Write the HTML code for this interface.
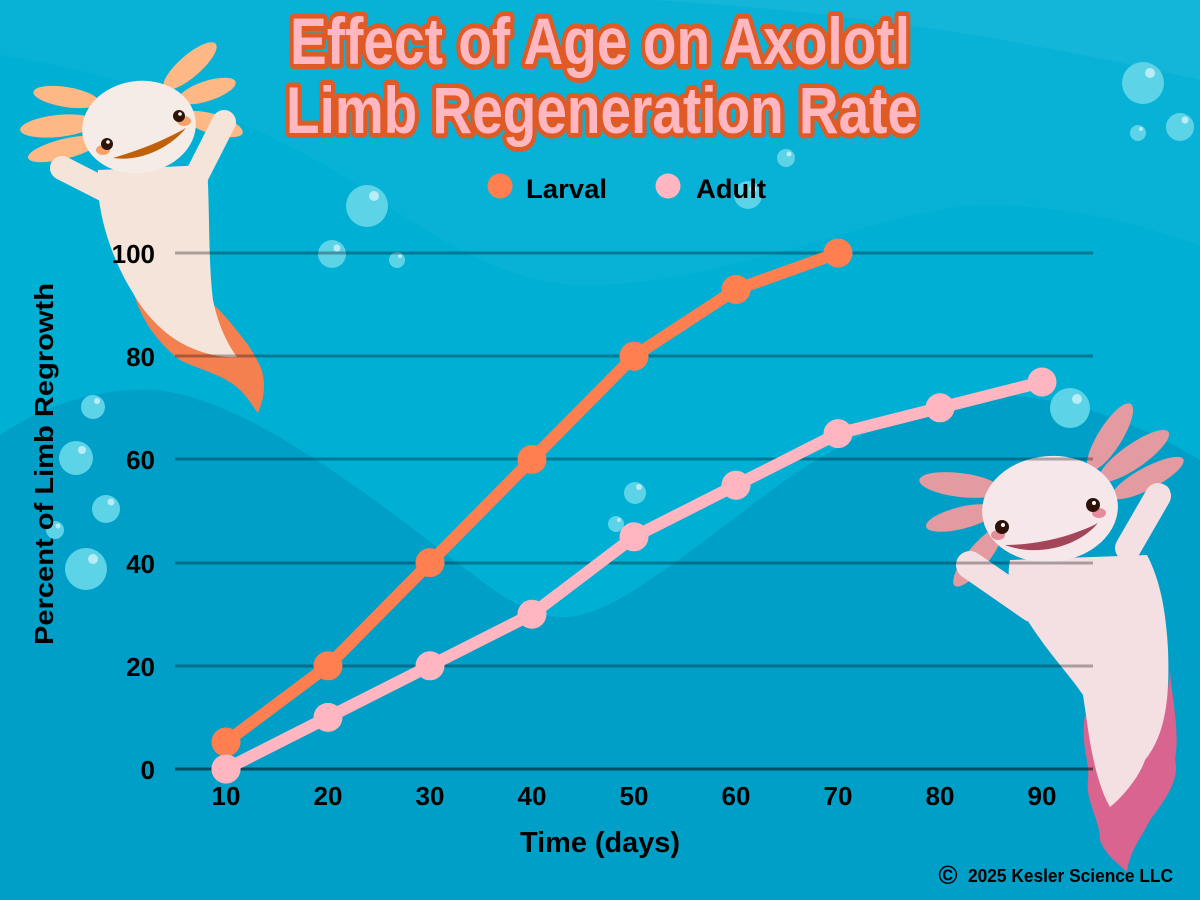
<!DOCTYPE html>
<html><head><meta charset="utf-8"><style>
html,body{margin:0;padding:0;width:1200px;height:900px;overflow:hidden;background:#00afd4;}
svg{display:block;}
text{font-family:"Liberation Sans",sans-serif;font-weight:bold;}
</style></head><body>
<svg width="1200" height="900" viewBox="0 0 1200 900" xmlns="http://www.w3.org/2000/svg">
<!-- background -->
<rect width="1200" height="900" fill="#00afd4"/>
<path d="M0,0 L0,55 C150,80 250,120 350,180 C450,250 520,290 600,285 C750,280 900,200 1000,205 C1100,210 1150,230 1200,245 L1200,0 Z" fill="#07b2d6"/>
<path d="M650,0 C850,12 1000,35 1200,80 L1200,0 Z" fill="#13b5d8"/>
<path d="M0,435 C50,402 100,388 153,390 C250,395 400,520 480,580 C520,610 545,618 566,617 C620,615 700,540 800,470 C880,420 950,395 1000,395 C1080,398 1150,430 1200,460 L1200,900 L0,900 Z" fill="#009fc8"/>

<!-- bubbles -->
<g fill="#5dd3e8">
<circle cx="1143" cy="83" r="21"/><circle cx="1180" cy="127" r="14"/><circle cx="1138" cy="133" r="8"/>
<circle cx="786" cy="158" r="9"/><circle cx="367" cy="206" r="21"/><circle cx="332" cy="254" r="14"/>
<circle cx="397" cy="260" r="8"/><circle cx="748" cy="195" r="14"/><circle cx="1070" cy="408" r="20"/>
<circle cx="93" cy="407" r="12"/><circle cx="76" cy="458" r="17"/><circle cx="106" cy="509" r="14"/>
<circle cx="55" cy="530" r="9"/><circle cx="86" cy="569" r="21"/><circle cx="635" cy="493" r="11"/>
<circle cx="616" cy="524" r="8"/>
</g>
<g fill="#b8ecf6">
<circle cx="1150" cy="73" r="5"/><circle cx="1185" cy="120" r="3.5"/><circle cx="1141" cy="129" r="2"/>
<circle cx="789" cy="154" r="2.5"/><circle cx="374" cy="196" r="5"/><circle cx="337" cy="248" r="3.5"/>
<circle cx="400" cy="256" r="2"/><circle cx="753" cy="189" r="3.5"/><circle cx="1077" cy="399" r="5"/>
<circle cx="97" cy="401" r="3"/><circle cx="82" cy="450" r="4"/><circle cx="111" cy="502" r="3.5"/>
<circle cx="58" cy="526" r="2.5"/><circle cx="93" cy="559" r="5"/><circle cx="639" cy="487" r="3"/>
<circle cx="619" cy="520" r="2"/>
</g>

<!-- left axolotl -->
<g>
<g fill="#fdb885">
<ellipse cx="66" cy="97" rx="33" ry="10" transform="rotate(9 66 97)"/>
<ellipse cx="58" cy="126" rx="38" ry="11" transform="rotate(-6 58 126)"/>
<ellipse cx="64" cy="149" rx="37" ry="10" transform="rotate(-14 64 149)"/>
<ellipse cx="190" cy="66" rx="34" ry="11" transform="rotate(-41 190 66)"/>
<ellipse cx="207" cy="91" rx="30" ry="10" transform="rotate(-18 207 91)"/>
<ellipse cx="213" cy="124" rx="31" ry="10" transform="rotate(17 213 124)"/>
</g>
<path d="M133,290 C140,320 160,345 180,360 C200,370 225,375 240,390 C250,400 255,410 258,413 C266,395 266,375 258,362 C250,345 240,335 230,322 C220,310 210,300 203,298 Z" fill="#f47f4f"/>
<path d="M98,170 C95,210 112,260 133,293 C145,315 165,335 185,345 C205,355 225,358 237,357 C228,345 218,325 213,300 C208,260 210,210 207,165 Z" fill="#f5e4d9"/>
<path d="M115,195 L62,168" stroke="#f5e4d9" stroke-width="24" stroke-linecap="round"/>
<path d="M192,185 L224,122" stroke="#f5e4d9" stroke-width="24" stroke-linecap="round"/>
<ellipse cx="139" cy="127" rx="57" ry="46" transform="rotate(-8 139 127)" fill="#f6ece7"/>
<ellipse cx="103" cy="150" rx="7" ry="5" fill="#f7a06a"/>
<ellipse cx="184" cy="121" rx="7" ry="5" fill="#f7a06a"/>
<circle cx="107" cy="144" r="6" fill="#2d1508"/><circle cx="108" cy="142" r="1.8" fill="#fff"/>
<circle cx="179" cy="116" r="6" fill="#2d1508"/><circle cx="180" cy="114" r="1.8" fill="#fff"/>
<path d="M113,158 C140,150 165,140 186,128 C170,148 140,162 113,158 Z" fill="#c0600a"/>
</g>

<!-- right axolotl -->
<g>
<g fill="#e39aa0">
<ellipse cx="960" cy="485" rx="41" ry="12" transform="rotate(7 960 485)"/>
<ellipse cx="961" cy="518" rx="36" ry="11" transform="rotate(-14 961 518)"/>
<ellipse cx="978" cy="557" rx="37" ry="11" transform="rotate(-51 978 557)"/>
<ellipse cx="1110" cy="437" rx="39" ry="12" transform="rotate(-58 1110 437)"/>
<ellipse cx="1134" cy="456" rx="42" ry="12" transform="rotate(-35 1134 456)"/>
<ellipse cx="1148" cy="478" rx="40" ry="11" transform="rotate(-28 1148 478)"/>
</g>
<path d="M1085,715 C1080,745 1090,760 1088,780 C1085,800 1100,820 1100,840 C1105,855 1120,865 1127,872 C1130,850 1140,840 1150,820 C1165,800 1180,780 1175,760 C1180,730 1172,700 1170,670 C1168,700 1160,740 1140,765 L1110,807 L1090,725 Z" fill="#d9648f"/>
<path d="M1010,560 C1005,585 1015,600 1023,613 C1045,650 1070,675 1083,695 L1087,722 C1092,760 1100,790 1110,807 C1125,795 1140,775 1145,760 C1165,735 1170,700 1168,650 C1166,610 1160,580 1147,555 Z" fill="#f4dfe2"/>
<path d="M1032,608 L970,565" stroke="#f4dfe2" stroke-width="28" stroke-linecap="round"/>
<path d="M1128,548 L1158,496" stroke="#f4dfe2" stroke-width="26" stroke-linecap="round"/>
<ellipse cx="1160" cy="492" rx="10" ry="8" fill="#f4dfe2"/>
<ellipse cx="1050" cy="509" rx="68" ry="53" transform="rotate(-5 1050 509)" fill="#f6e7ea"/>
<ellipse cx="998" cy="535" rx="7" ry="5" fill="#e58d9c"/>
<ellipse cx="1099" cy="513" rx="7" ry="5" fill="#e58d9c"/>
<circle cx="1002" cy="527" r="7" fill="#2d1208"/><circle cx="1003" cy="525" r="2" fill="#fff"/>
<circle cx="1093" cy="505" r="7" fill="#2d1208"/><circle cx="1094" cy="503" r="2" fill="#fff"/>
<path d="M1005,545 C1040,545 1075,535 1098,523 C1080,545 1040,558 1005,545 Z" fill="#a3465a"/>
</g>

<!-- gridlines -->
<g stroke="rgba(0,0,0,0.3)" stroke-width="3">
<line x1="175" y1="253" x2="1093" y2="253"/>
<line x1="175" y1="356" x2="1093" y2="356"/>
<line x1="175" y1="459" x2="1093" y2="459"/>
<line x1="175" y1="563" x2="1093" y2="563"/>
<line x1="175" y1="666" x2="1093" y2="666"/>
</g>
<line x1="175" y1="769" x2="1093" y2="769" stroke="rgba(0,0,0,0.5)" stroke-width="3"/>

<!-- series -->
<polyline points="226,769 328,717.4 430,665.8 532,614.2 634,536.8 736,485.2 838,433.6 940,407.8 1042,382" fill="none" stroke="#ffb6c1" stroke-width="12" stroke-linejoin="round" stroke-linecap="round"/>
<g fill="#ffb6c1">
<circle cx="226" cy="769" r="14.5"/><circle cx="328" cy="717.4" r="14.5"/><circle cx="430" cy="665.8" r="14.5"/>
<circle cx="532" cy="614.2" r="14.5"/><circle cx="634" cy="536.8" r="14.5"/><circle cx="736" cy="485.2" r="14.5"/>
<circle cx="838" cy="433.6" r="14.5"/><circle cx="940" cy="407.8" r="14.5"/><circle cx="1042" cy="382" r="14.5"/>
</g>
<polyline points="226,742 328,665.8 430,562.6 532,459.4 634,356.2 736,289.5 838,253" fill="none" stroke="#ff7f50" stroke-width="12" stroke-linejoin="round" stroke-linecap="round"/>
<g fill="#ff7f50">
<circle cx="226" cy="742" r="14.5"/><circle cx="328" cy="665.8" r="14.5"/><circle cx="430" cy="562.6" r="14.5"/>
<circle cx="532" cy="459.4" r="14.5"/><circle cx="634" cy="356.2" r="14.5"/><circle cx="736" cy="289.5" r="14.5"/>
<circle cx="838" cy="253" r="14.5"/>
</g>
<circle cx="226" cy="769" r="14.5" fill="#ffb6c1"/>
<line x1="226" y1="769" x2="328" y2="717.4" stroke="#ffb6c1" stroke-width="12"/>

<!-- title -->
<g font-size="66" fill="#ffb8c2" stroke="#e05a26" stroke-width="10" stroke-linejoin="round" paint-order="stroke">
<text x="290" y="64" textLength="620" lengthAdjust="spacingAndGlyphs">Effect of Age on Axolotl</text>
<text x="286" y="133" textLength="632" lengthAdjust="spacingAndGlyphs">Limb Regeneration Rate</text>
</g>

<!-- legend -->
<circle cx="500" cy="186" r="12.5" fill="#ff7f50"/>
<text x="526" y="198" font-size="27" fill="#000" textLength="81" lengthAdjust="spacingAndGlyphs">Larval</text>
<circle cx="668" cy="186" r="12.5" fill="#ffb6c1"/>
<text x="696" y="198" font-size="27" fill="#000" textLength="70" lengthAdjust="spacingAndGlyphs">Adult</text>

<!-- y tick labels -->
<g font-size="26" fill="#000" text-anchor="end">
<text x="155" y="263">100</text>
<text x="155" y="366">80</text>
<text x="155" y="469">60</text>
<text x="155" y="573">40</text>
<text x="155" y="676">20</text>
<text x="155" y="779">0</text>
</g>
<!-- x tick labels -->
<g font-size="26" fill="#000" text-anchor="middle">
<text x="226" y="805">10</text>
<text x="328" y="805">20</text>
<text x="430" y="805">30</text>
<text x="532" y="805">40</text>
<text x="634" y="805">50</text>
<text x="736" y="805">60</text>
<text x="838" y="805">70</text>
<text x="940" y="805">80</text>
<text x="1042" y="805">90</text>
</g>

<text x="600" y="852" font-size="29" fill="#000" text-anchor="middle" textLength="160" lengthAdjust="spacingAndGlyphs">Time (days)</text>
<text transform="translate(53,464) rotate(-90)" font-size="26" fill="#000" text-anchor="middle" textLength="362" lengthAdjust="spacingAndGlyphs">Percent of Limb Regrowth</text>

<text x="948" y="884" font-size="26" fill="#000" text-anchor="middle" font-weight="normal">©</text>
<text x="968" y="882" font-size="18" fill="#000" textLength="205" lengthAdjust="spacingAndGlyphs">2025 Kesler Science LLC</text>
</svg>
</body></html>
